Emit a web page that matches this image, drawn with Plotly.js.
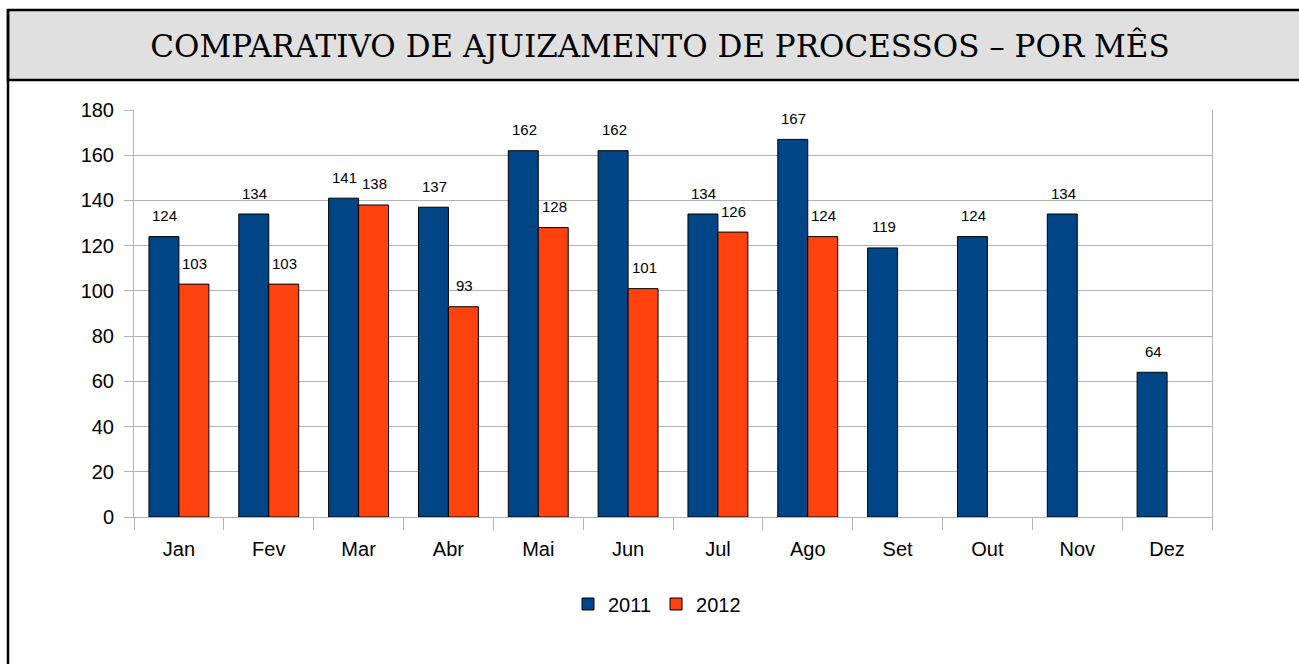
<!DOCTYPE html>
<html>
<head>
<meta charset="utf-8">
<script src="https://cdn.plot.ly/plotly-3.0.1.min.js"></script>
<style>html,body{margin:0;padding:0;background:#fff;}#chart{width:1299px;height:664px;}</style>
</head>
<body>
<div id="chart"></div>
<script>
var months = ["Jan","Fev","Mar","Abr","Mai","Jun","Jul","Ago","Set","Out","Nov","Dez"];
var values2011 = [124,134,141,137,162,162,134,167,119,124,134,64];
var values2012 = [103,103,138,93,128,101,126,124,null,null,null,null];
var seriesNames = ["2011","2012"];
var yTicks = [0,20,40,60,80,100,120,140,160,180];

var colors = ["#004586","#ff420e"];

var traces = [values2011, values2012].map(function(v,i){
  return {
    type:"bar", x:months, y:v, name:seriesNames[i],
    marker:{color:colors[i], line:{color:"#000", width:1}},
    hoverinfo:"x+y"
  };
});

var annotations = [];
[values2011, values2012].forEach(function(v,i){
  v.forEach(function(val,j){
    if(val===null) return;
    annotations.push({
      x:months[j], y:val, xref:"x", yref:"y", text:String(val),
      showarrow:false, xshift:(i===0?-14:16), yshift:21, yanchor:"middle",
      font:{family:"Liberation Sans, Arial, sans-serif", size:15, color:"#000"}
    });
  });
});

var L=134, R=1212, T=110, B=517, W=1299, H=664;
function px(x){return (x-L)/(R-L);}
function py(y){return (B-y)/(B-T);}

var layout = {
  width:W, height:H,
  margin:{l:L, r:W-R, t:T, b:H-B, pad:0},
  paper_bgcolor:"#fff", plot_bgcolor:"#fff",
  barmode:"group", bargap:0.333, bargroupgap:0,
  font:{family:"Liberation Sans, Arial, sans-serif", size:20, color:"#000"},
  title:{text:"COMPARATIVO DE AJUIZAMENTO DE PROCESSOS – POR MÊS",
    font:{family:"DejaVu Serif, serif", size:31, color:"#000"},
    x:px(660), xref:"paper", xanchor:"center", y:1-46/H, yref:"container", yanchor:"middle"},
  xaxis:{type:"category", tickson:"boundaries", ticks:"outside", ticklen:12, tickcolor:"#b3b3b3", tickwidth:1,
    showline:true, linecolor:"#b3b3b3", linewidth:1, showgrid:false, ticklabelstandoff:14,
    tickfont:{size:20}},
  yaxis:{range:[0,180], tickvals:yTicks, ticks:"outside", ticklen:9, tickcolor:"#b3b3b3",
    showline:true, linecolor:"#b3b3b3", mirror:true, gridcolor:"#b3b3b3", gridwidth:1,
    zeroline:false, tickfont:{size:20}, ticklabelstandoff:6},
  showlegend:true,
  legend:{orientation:"h", x:px(657), xanchor:"center", y:py(604), yanchor:"middle",
    font:{size:20}, itemwidth:30, tracegroupgap:0},
  annotations:annotations,
  shapes:[
    {type:"rect", xref:"paper", yref:"paper", x0:px(8), x1:px(1310), y0:py(80), y1:py(10),
      fillcolor:"#e0e0e0", line:{color:"#000", width:2.5}, layer:"below"},
    {type:"line", xref:"paper", yref:"paper", x0:px(8), x1:px(8), y0:py(670), y1:py(10),
      line:{color:"#000", width:2.5}}
  ]
};

Plotly.newPlot("chart", traces, layout, {displayModeBar:false, staticPlot:true});
</script>
</body>
</html>
